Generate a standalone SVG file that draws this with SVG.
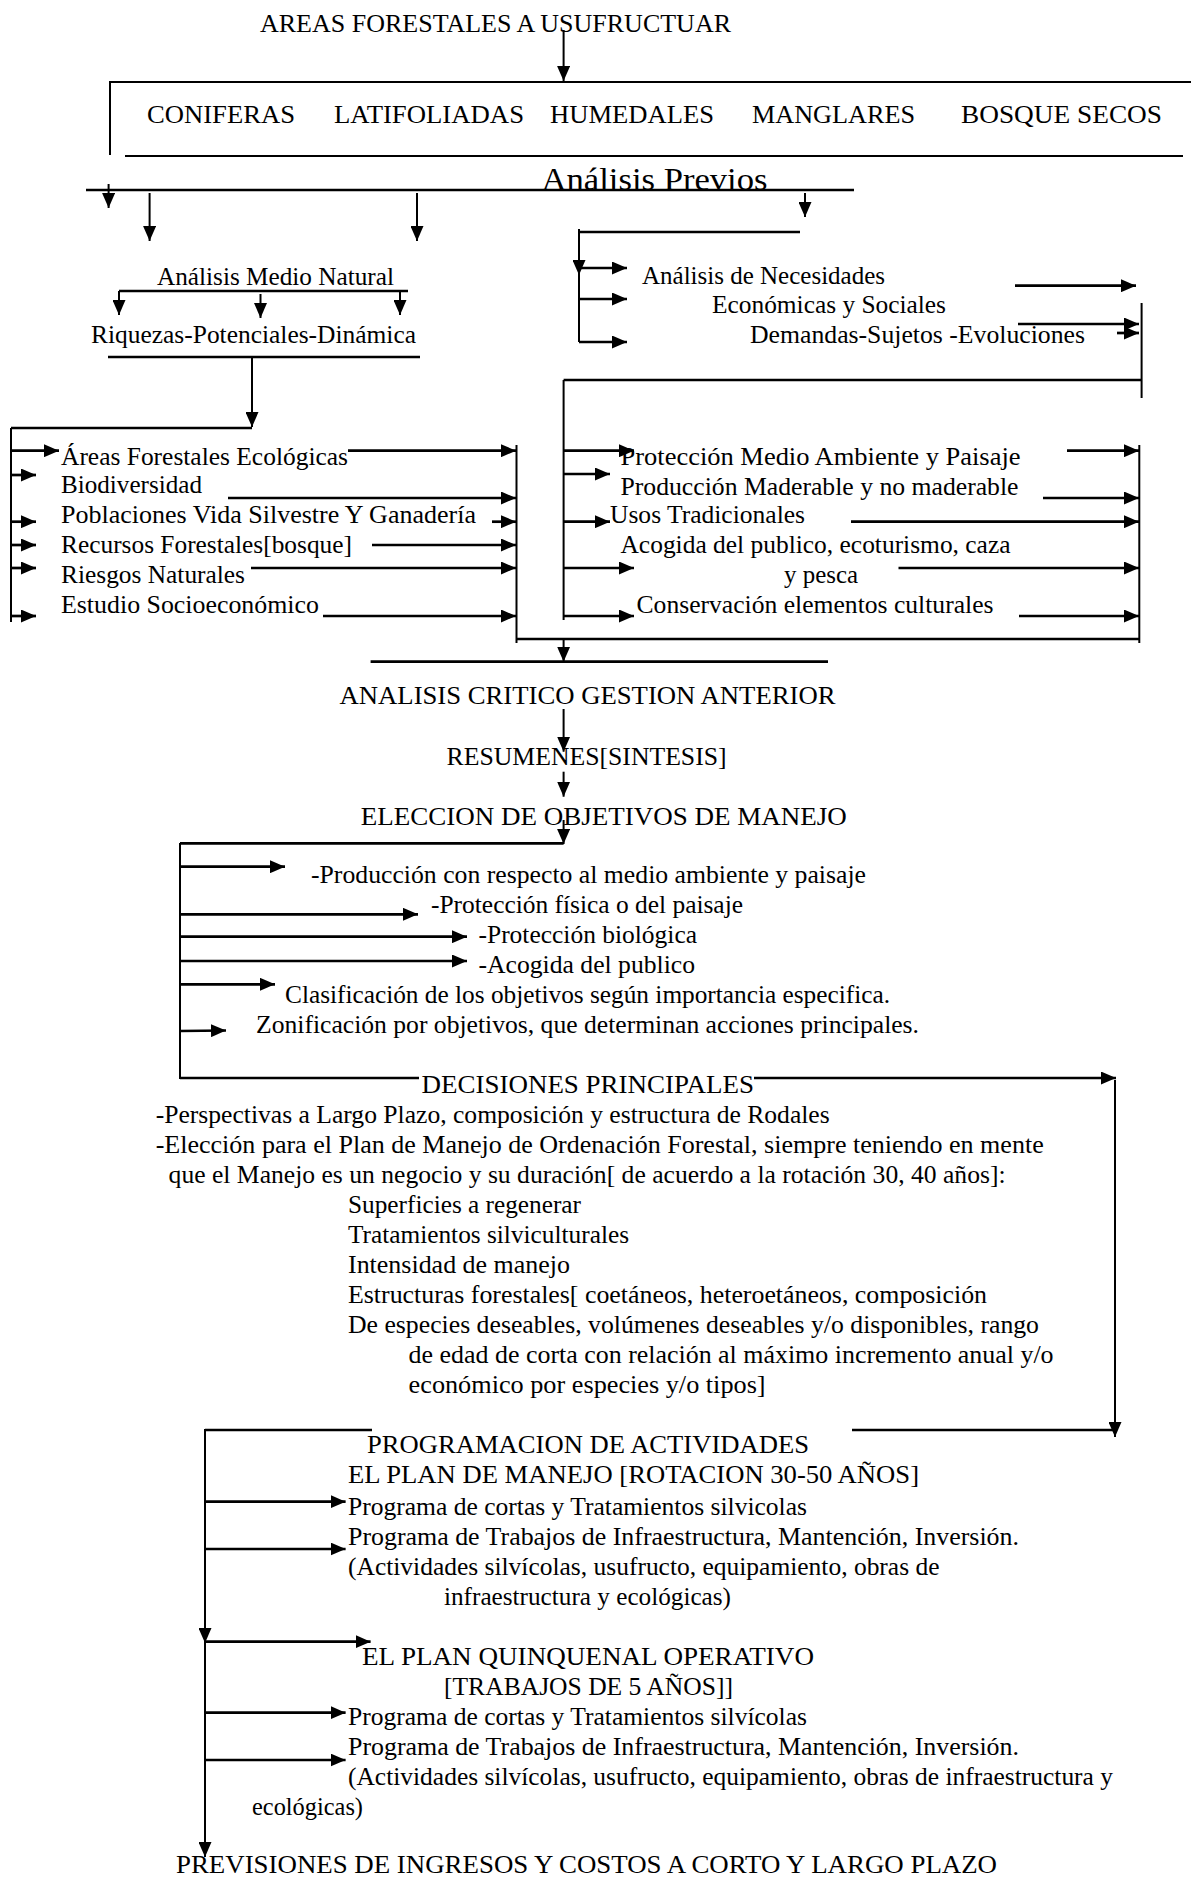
<svg xmlns="http://www.w3.org/2000/svg" width="1191" height="1879" viewBox="0 0 1191 1879">
<style>
text{font-family:"Liberation Serif","Times New Roman",serif;font-size:24.5px;fill:#000;}
.big{font-size:32px;}
.c line,.c polyline{stroke:#000;stroke-width:2;fill:none;}
.c .a{marker-end:url(#ah);}
.c .h{stroke-width:2.7;}
</style>
<defs>
<marker id="ah" markerUnits="userSpaceOnUse" markerWidth="15" markerHeight="13" refX="15" refY="6.5" orient="auto"><path d="M0,0 L15,6.5 L0,13 z" fill="#000"/></marker>
</defs>
<rect x="0" y="0" width="1191" height="1879" fill="#fff"/>
<g id="connectors" class="c">
<line class="a" x1="563.6" y1="30" x2="563.6" y2="81"/>
<polyline points="110,155 110,82 1191,82"/>
<line x1="125" y1="156" x2="1183" y2="156"/>
<line x1="86" y1="190" x2="854" y2="190" style="stroke-width:2.7"/>
<line class="a" x1="108.6" y1="184" x2="108.6" y2="208"/>
<line class="a" x1="149.6" y1="193" x2="149.6" y2="241"/>
<line class="a" x1="417" y1="193" x2="417" y2="241"/>
<line class="a" x1="805" y1="193" x2="805" y2="217"/>
<line class="h" x1="579" y1="232" x2="800" y2="232"/>
<line class="a" x1="579" y1="229" x2="579" y2="275"/>
<line x1="579" y1="275" x2="579" y2="342"/>
<line class="a h" x1="579" y1="268" x2="627" y2="268"/>
<line class="a h" x1="579" y1="299" x2="627" y2="299"/>
<line class="a h" x1="579" y1="342" x2="627" y2="342"/>
<line class="a h" x1="1015" y1="285.7" x2="1136" y2="285.7"/>
<line class="a h" x1="1018" y1="324" x2="1139" y2="324"/>
<line class="a h" x1="1117" y1="333" x2="1139" y2="333"/>
<line x1="1141.6" y1="303" x2="1141.6" y2="398"/>
<line class="h" x1="563.6" y1="380" x2="1141.6" y2="380"/>
<line x1="563.6" y1="380" x2="563.6" y2="620"/>
<line class="h" x1="119" y1="291" x2="408" y2="291"/>
<line class="a" x1="119" y1="291" x2="119" y2="315"/>
<line class="a" x1="260.5" y1="294" x2="260.5" y2="318"/>
<line class="a" x1="400" y1="291" x2="400" y2="315"/>
<line class="h" x1="108" y1="357" x2="420" y2="357"/>
<line class="a" x1="252" y1="357" x2="252" y2="427"/>
<line class="h" x1="11" y1="428" x2="252" y2="428"/>
<line x1="11" y1="428" x2="11" y2="622"/>
<line class="a h" x1="11" y1="450.7" x2="59" y2="450.7"/>
<line class="a h" x1="11" y1="475" x2="36" y2="475"/>
<line class="a h" x1="11" y1="521.7" x2="36" y2="521.7"/>
<line class="a h" x1="11" y1="545" x2="36" y2="545"/>
<line class="a h" x1="11" y1="568" x2="36" y2="568"/>
<line class="a h" x1="11" y1="616" x2="36" y2="616"/>
<line class="a h" x1="348" y1="450.7" x2="516" y2="450.7"/>
<line class="a h" x1="228" y1="498" x2="516" y2="498"/>
<line class="a h" x1="492" y1="521.7" x2="516" y2="521.7"/>
<line class="a h" x1="372" y1="545" x2="516" y2="545"/>
<line class="a h" x1="251" y1="568" x2="516" y2="568"/>
<line class="a h" x1="323" y1="616" x2="516" y2="616"/>
<line x1="516.5" y1="445" x2="516.5" y2="643"/>
<line class="h" x1="516" y1="639" x2="1139.3" y2="639"/>
<line x1="1139.3" y1="445" x2="1139.3" y2="643"/>
<line class="a" x1="563.6" y1="639" x2="563.6" y2="661.7"/>
<line class="h" x1="370.6" y1="661.7" x2="828" y2="661.7"/>
<line class="a h" x1="563.6" y1="450.7" x2="634" y2="450.7"/>
<line class="a h" x1="563.6" y1="474" x2="610" y2="474"/>
<line class="a h" x1="563.6" y1="521.7" x2="610" y2="521.7"/>
<line class="a h" x1="563.6" y1="568" x2="634" y2="568"/>
<line class="a h" x1="563.6" y1="616" x2="634" y2="616"/>
<line class="a h" x1="1067" y1="450.7" x2="1139" y2="450.7"/>
<line class="a h" x1="1043" y1="498" x2="1139" y2="498"/>
<line class="a h" x1="851" y1="521.7" x2="1139" y2="521.7"/>
<line class="a h" x1="898.5" y1="568" x2="1139" y2="568"/>
<line class="a h" x1="1019" y1="616" x2="1139" y2="616"/>
<line class="a" x1="563.6" y1="709" x2="563.6" y2="751.7"/>
<line class="a" x1="563.6" y1="771.7" x2="563.6" y2="796.7"/>
<line class="a" x1="563.6" y1="820" x2="563.6" y2="844"/>
<line class="h" x1="180" y1="843.3" x2="563.6" y2="843.3"/>
<line x1="180" y1="843" x2="180" y2="1079"/>
<line class="a h" x1="180" y1="866.7" x2="285" y2="866.7"/>
<line class="a h" x1="180" y1="914.3" x2="418" y2="914.3"/>
<line class="a h" x1="180" y1="936.7" x2="467" y2="936.7"/>
<line class="a h" x1="180" y1="961" x2="467" y2="961"/>
<line class="a h" x1="180" y1="984.3" x2="275" y2="984.3"/>
<line class="a h" x1="180" y1="1031" x2="226" y2="1030.5"/>
<line class="h" x1="180" y1="1078" x2="419" y2="1078"/>
<line class="a h" x1="754" y1="1078" x2="1116" y2="1078"/>
<line class="a" x1="1115" y1="1080" x2="1115" y2="1437"/>
<line class="h" x1="205" y1="1430" x2="372" y2="1430"/>
<line class="h" x1="852" y1="1430" x2="1115" y2="1430"/>
<line class="a" x1="205" y1="1429" x2="205" y2="1643"/>
<line class="a" x1="205" y1="1643" x2="205" y2="1857"/>
<line class="a h" x1="205" y1="1501.7" x2="345.6" y2="1501.7"/>
<line class="a h" x1="205" y1="1549" x2="345.6" y2="1549"/>
<line class="a h" x1="205" y1="1641.7" x2="370.6" y2="1641.7"/>
<line class="a h" x1="205" y1="1712.7" x2="345.6" y2="1712.7"/>
<line class="a h" x1="205" y1="1760" x2="345.6" y2="1760"/>
</g>
<g id="n-areas"><text x="260" y="32" textLength="471" lengthAdjust="spacingAndGlyphs">AREAS FORESTALES A USUFRUCTUAR</text></g>
<g id="n-tipos">
<text x="147" y="123" textLength="148" lengthAdjust="spacingAndGlyphs">CONIFERAS</text>
<text x="334" y="123" textLength="190" lengthAdjust="spacingAndGlyphs">LATIFOLIADAS</text>
<text x="550" y="123" textLength="164" lengthAdjust="spacingAndGlyphs">HUMEDALES</text>
<text x="752" y="123" textLength="163" lengthAdjust="spacingAndGlyphs">MANGLARES</text>
<text x="961" y="123" textLength="201" lengthAdjust="spacingAndGlyphs">BOSQUE  SECOS</text>
</g>
<g id="n-analisis-previos"><text class="big" x="541.5" y="190" textLength="226" lengthAdjust="spacingAndGlyphs">Análisis Previos</text></g>
<g id="n-medio-natural"><text x="157" y="285" textLength="237" lengthAdjust="spacingAndGlyphs">Análisis Medio Natural</text></g>
<g id="n-riquezas"><text x="91" y="343" textLength="325" lengthAdjust="spacingAndGlyphs">Riquezas-Potenciales-Dinámica</text></g>
<g id="n-necesidades">
<text x="642" y="284" textLength="243" lengthAdjust="spacingAndGlyphs">Análisis de Necesidades</text>
<text x="712" y="313" textLength="234" lengthAdjust="spacingAndGlyphs">Económicas y Sociales</text>
<text x="750" y="343" textLength="335" lengthAdjust="spacingAndGlyphs">Demandas-Sujetos -Evoluciones</text>
</g>
<g id="n-lista-izq">
<text x="61" y="465" textLength="287" lengthAdjust="spacingAndGlyphs">Áreas Forestales Ecológicas</text>
<text x="61" y="493" textLength="141" lengthAdjust="spacingAndGlyphs">Biodiversidad</text>
<text x="61" y="523" textLength="415" lengthAdjust="spacingAndGlyphs">Poblaciones Vida Silvestre Y  Ganadería</text>
<text x="61" y="553" textLength="291" lengthAdjust="spacingAndGlyphs">Recursos Forestales[bosque]</text>
<text x="61" y="583" textLength="184" lengthAdjust="spacingAndGlyphs">Riesgos Naturales</text>
<text x="61" y="613" textLength="258" lengthAdjust="spacingAndGlyphs">Estudio Socioeconómico</text>
</g>
<g id="n-lista-der">
<text x="620.5" y="465" textLength="400" lengthAdjust="spacingAndGlyphs">Protección Medio Ambiente y   Paisaje</text>
<text x="620.5" y="495" textLength="398" lengthAdjust="spacingAndGlyphs">Producción Maderable y no maderable</text>
<text x="610" y="523" textLength="195" lengthAdjust="spacingAndGlyphs">Usos Tradicionales</text>
<text x="620.5" y="553" textLength="390" lengthAdjust="spacingAndGlyphs">Acogida del publico, ecoturismo, caza</text>
<text x="784" y="583" textLength="74" lengthAdjust="spacingAndGlyphs">y pesca</text>
<text x="636.5" y="613" textLength="357" lengthAdjust="spacingAndGlyphs">Conservación elementos culturales</text>
</g>
<g id="n-analisis-critico"><text x="339.5" y="704" textLength="496" lengthAdjust="spacingAndGlyphs">ANALISIS CRITICO GESTION ANTERIOR</text></g>
<g id="n-resumenes"><text x="446.6" y="765" textLength="280" lengthAdjust="spacingAndGlyphs">RESUMENES[SINTESIS]</text></g>
<g id="n-eleccion"><text x="360.8" y="825" textLength="486" lengthAdjust="spacingAndGlyphs">ELECCION DE OBJETIVOS DE MANEJO</text></g>
<g id="n-objetivos">
<text x="311" y="883" textLength="555" lengthAdjust="spacingAndGlyphs">-Producción con respecto al medio ambiente y paisaje</text>
<text x="431" y="913" textLength="312" lengthAdjust="spacingAndGlyphs">-Protección física o del paisaje</text>
<text x="478.5" y="943" textLength="218.5" lengthAdjust="spacingAndGlyphs">-Protección biológica</text>
<text x="478.5" y="973" textLength="216.5" lengthAdjust="spacingAndGlyphs">-Acogida del publico</text>
<text x="285" y="1003" textLength="605" lengthAdjust="spacingAndGlyphs">Clasificación de los objetivos según importancia especifica.</text>
<text x="256" y="1033" textLength="663" lengthAdjust="spacingAndGlyphs">Zonificación por objetivos, que determinan acciones principales.</text>
</g>
<g id="n-decisiones">
<text x="421.5" y="1093" textLength="332.5" lengthAdjust="spacingAndGlyphs">DECISIONES PRINCIPALES</text>
<text x="155.7" y="1123" textLength="674" lengthAdjust="spacingAndGlyphs">-Perspectivas a Largo Plazo, composición y estructura de Rodales</text>
<text x="155.7" y="1153" textLength="888" lengthAdjust="spacingAndGlyphs">-Elección para el Plan de Manejo de Ordenación Forestal, siempre  teniendo en mente</text>
<text x="168.6" y="1183" textLength="837" lengthAdjust="spacingAndGlyphs">que el Manejo es un negocio  y su duración[ de acuerdo a la rotación 30, 40 años]:</text>
<text x="348" y="1213" textLength="233" lengthAdjust="spacingAndGlyphs">Superficies a regenerar</text>
<text x="348" y="1243" textLength="281" lengthAdjust="spacingAndGlyphs">Tratamientos silviculturales</text>
<text x="348" y="1273" textLength="222" lengthAdjust="spacingAndGlyphs">Intensidad de manejo</text>
<text x="348" y="1303" textLength="639" lengthAdjust="spacingAndGlyphs">Estructuras forestales[ coetáneos, heteroetáneos, composición</text>
<text x="348" y="1333" textLength="691" lengthAdjust="spacingAndGlyphs">De especies deseables, volúmenes deseables y/o disponibles, rango</text>
<text x="408.6" y="1363" textLength="645" lengthAdjust="spacingAndGlyphs">de edad de corta con relación al máximo incremento anual y/o</text>
<text x="408.6" y="1393" textLength="357" lengthAdjust="spacingAndGlyphs">económico por especies y/o tipos]</text>
</g>
<g id="n-programacion">
<text x="367" y="1453" textLength="442" lengthAdjust="spacingAndGlyphs">PROGRAMACION DE ACTIVIDADES</text>
<text x="348" y="1483" textLength="571" lengthAdjust="spacingAndGlyphs">EL PLAN DE MANEJO [ROTACION 30-50 AÑOS]</text>
<text x="348" y="1515" textLength="459" lengthAdjust="spacingAndGlyphs">Programa de cortas y Tratamientos silvicolas</text>
<text x="348" y="1545" textLength="671" lengthAdjust="spacingAndGlyphs">Programa de Trabajos de Infraestructura, Mantención, Inversión.</text>
<text x="348" y="1575" textLength="591.5" lengthAdjust="spacingAndGlyphs">(Actividades silvícolas, usufructo, equipamiento, obras de</text>
<text x="444" y="1605" textLength="287" lengthAdjust="spacingAndGlyphs">infraestructura y ecológicas)</text>
</g>
<g id="n-quinquenal">
<text x="362" y="1665" textLength="452" lengthAdjust="spacingAndGlyphs">EL PLAN QUINQUENAL OPERATIVO</text>
<text x="444" y="1695" textLength="289" lengthAdjust="spacingAndGlyphs">[TRABAJOS DE 5 AÑOS]]</text>
<text x="348" y="1725" textLength="459" lengthAdjust="spacingAndGlyphs">Programa de cortas y Tratamientos silvícolas</text>
<text x="348" y="1755" textLength="671" lengthAdjust="spacingAndGlyphs">Programa de Trabajos de Infraestructura, Mantención, Inversión.</text>
<text x="348" y="1785" textLength="765" lengthAdjust="spacingAndGlyphs">(Actividades silvícolas, usufructo, equipamiento, obras de infraestructura y</text>
<text x="252" y="1815" textLength="111" lengthAdjust="spacingAndGlyphs">ecológicas)</text>
</g>
<g id="n-previsiones"><text x="176" y="1873" textLength="821" lengthAdjust="spacingAndGlyphs">PREVISIONES DE INGRESOS Y COSTOS A CORTO Y LARGO PLAZO</text></g>
</svg>
